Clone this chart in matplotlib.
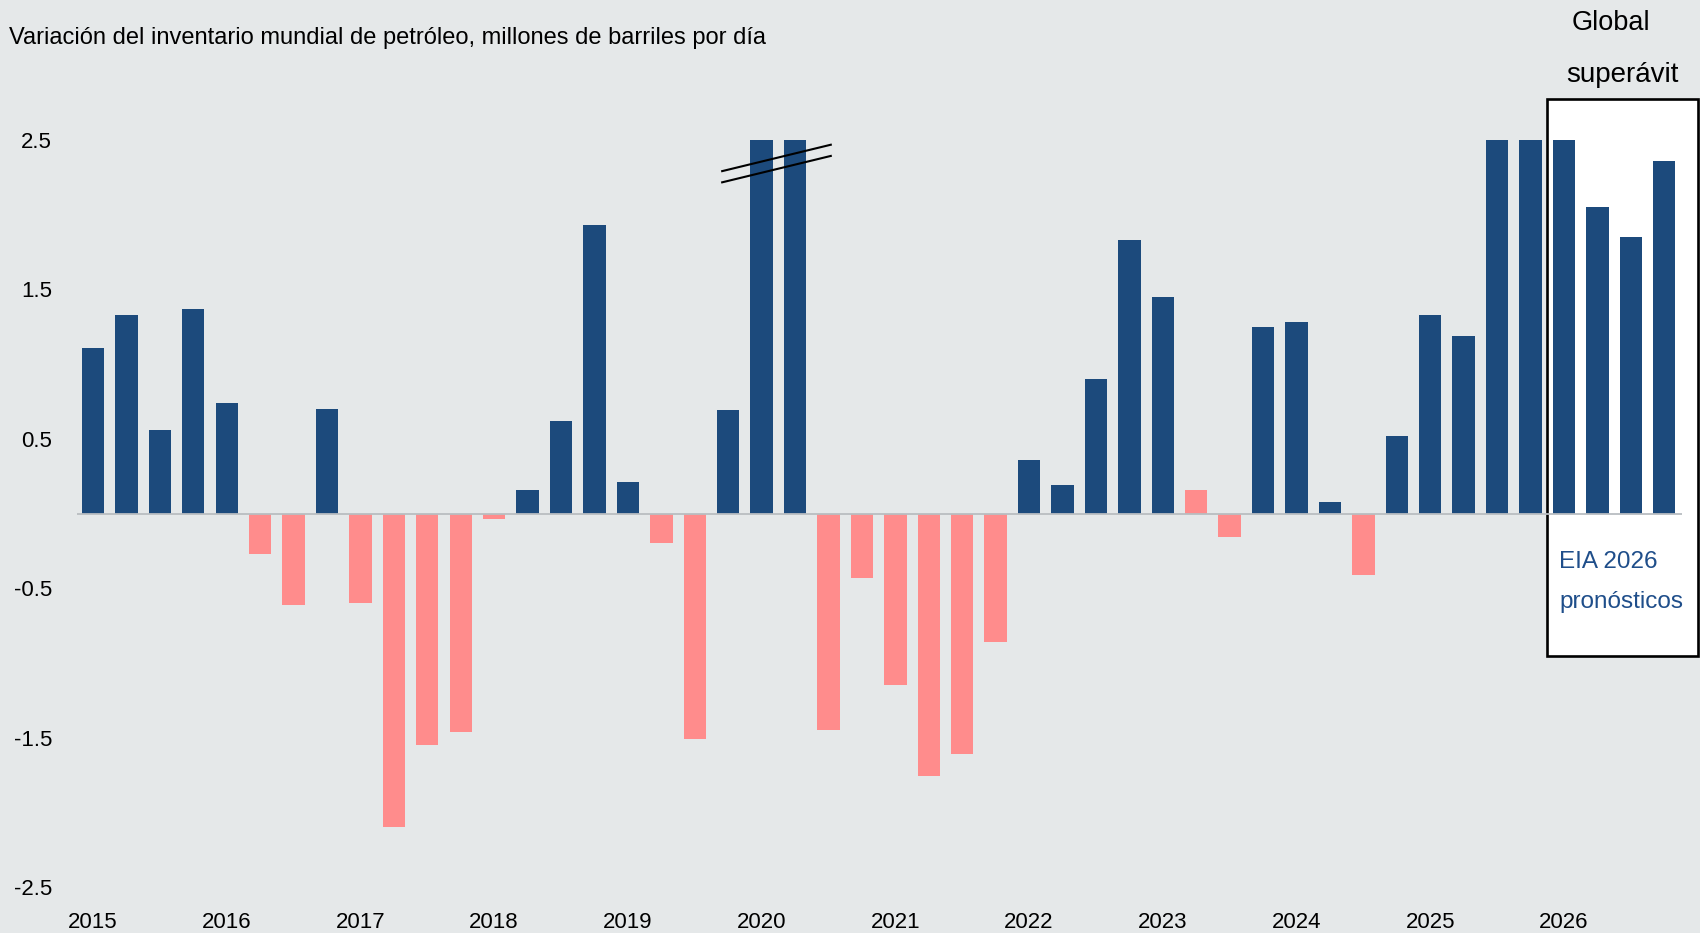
import matplotlib
matplotlib.use("Agg")
import matplotlib.pyplot as plt
from matplotlib import font_manager
from matplotlib.patches import Rectangle
import matplotlib.transforms as mtransforms

# ---------------- data ----------------
titulo = "Variación del inventario mundial de petróleo, millones de barriles por día"
anios = ["2015", "2016", "2017", "2018", "2019", "2020",
         "2021", "2022", "2023", "2024", "2025", "2026"]
variacion = [
    1.11, 1.33, 0.56, 1.37,      # 2015
    0.74, -0.27, -0.61, 0.70,    # 2016
    -0.60, -2.10, -1.55, -1.46,  # 2017
    -0.04, 0.16, 0.62, 1.93,     # 2018
    0.21, -0.20, -1.51, 0.69,    # 2019
    2.50, 2.50, -1.45, -0.43,    # 2020 (truncated)
    -1.15, -1.76, -1.61, -0.86,  # 2021
    0.36, 0.19, 0.90, 1.83,      # 2022
    1.45, 0.16, -0.16, 1.25,     # 2023
    1.28, 0.08, -0.41, 0.52,     # 2024
    1.33, 1.19, 2.50, 2.50,      # 2025
    2.50, 2.05, 1.85, 2.36,      # 2026
]
# 'a' = acumulación (azul), 'd' = desacumulación (rosa)
tipo = list("aaaa" "adda" "dddd" "daaa" "adda" "aadd"
            "dddd" "aaaa" "adda" "aada" "aaaa" "aaaa")
yticks = [2.5, 1.5, 0.5, -0.5, -1.5, -2.5]
ytick_labels = ["2.5", "1.5", "0.5", "-0.5", "-1.5", "-2.5"]
indice_corte = [20, 21]

# ---------------- style ----------------
W, H = 1700, 933
BG = "#e5e8e9"
NAVY = "#1c4a7c"
PINK = "#ff8c8c"
colores = {"a": NAVY, "d": PINK}

avail = {f.name for f in font_manager.fontManager.ttflist}
narrow = ["Liberation Sans Narrow", "Liberation Sans", "DejaVu Sans"]
narrow = [f for f in narrow if f in avail] or ["DejaVu Sans"]
regular = [f for f in ["Liberation Sans", "DejaVu Sans"] if f in avail]

fig = plt.figure(figsize=(W / 100, H / 100), dpi=100, facecolor=BG)

def fx(px):
    return px / W

def fy(py):
    return 1 - py / H

ax_left, ax_right, ax_top, ax_bot = 77, 1682, 100, 920
ax = fig.add_axes([fx(ax_left), fy(ax_bot), fx(ax_right - ax_left), (ax_bot - ax_top) / H])
ax.set_facecolor("none")

# y mapping: 2.5 at px 140, -2.5 at px 887
ppu = (887 - 140) / 5.0
zero_px = 140 + 2.5 * ppu
ax.set_ylim(-(ax_bot - zero_px) / ppu, (zero_px - ax_top) / ppu)
# x mapping: first bar center at 93 px, spacing 33.43
x0, dx = 93.0, 33.43
ax.set_xlim(-(x0 - ax_left) / dx, (ax_right - x0) / dx)

for s in ax.spines.values():
    s.set_visible(False)

# framed forecast box (behind bars)
box = Rectangle((fx(1547), fy(656)), fx(1698 - 1547), (656 - 99) / H,
                transform=fig.transFigure, facecolor="white",
                edgecolor="black", linewidth=1.9, zorder=0.5, clip_on=False)
ax.add_patch(box)

xs = list(range(len(variacion)))
ax.bar(xs, variacion, width=0.67, color=[colores[t] for t in tipo],
       zorder=2, linewidth=0)
ax.axhline(0, color="#b9bdc1", linewidth=1.3, zorder=3)

ax.set_yticks(yticks)
ax.set_yticklabels(ytick_labels, family=narrow, fontsize=16, color="black")
ax.tick_params(axis="y", length=0, pad=18)
ax.set_xticks([])

# year labels under Q1 bars
trans = mtransforms.blended_transform_factory(ax.transData, fig.transFigure)
for i, a in enumerate(anios):
    ax.text(4 * i, fy(922), a, transform=trans, ha="center", va="center",
            family=narrow, fontsize=16, color="black", clip_on=False)

# break marks over the 2020 truncated bars
c0, c1 = indice_corte
for off in (0.0, -0.075):
    ax.plot([c0 - 1.21, c1 + 1.1], [2.29 + off, 2.47 + off],
            color="black", linewidth=1.5, zorder=4, clip_on=False,
            solid_capstyle="butt")

# texts
fig.text(fx(9), fy(38), titulo, ha="left", va="center",
         family=narrow, fontsize=17, color="black")
fig.text(fx(1611), fy(23), "Global", ha="center", va="center",
         family=regular, fontsize=19.5, color="black")
fig.text(fx(1622), fy(75), "superávit", ha="center", va="center",
         family=regular, fontsize=20, color="black")
fig.text(fx(1559), fy(562), "EIA 2026", ha="left", va="center",
         family=regular, fontsize=17.5, color="#1f4e8a")
fig.text(fx(1559), fy(602), "pronósticos", ha="left", va="center",
         family=regular, fontsize=17.5, color="#1f4e8a")

fig.savefig("out.png", dpi=100, facecolor=BG)
